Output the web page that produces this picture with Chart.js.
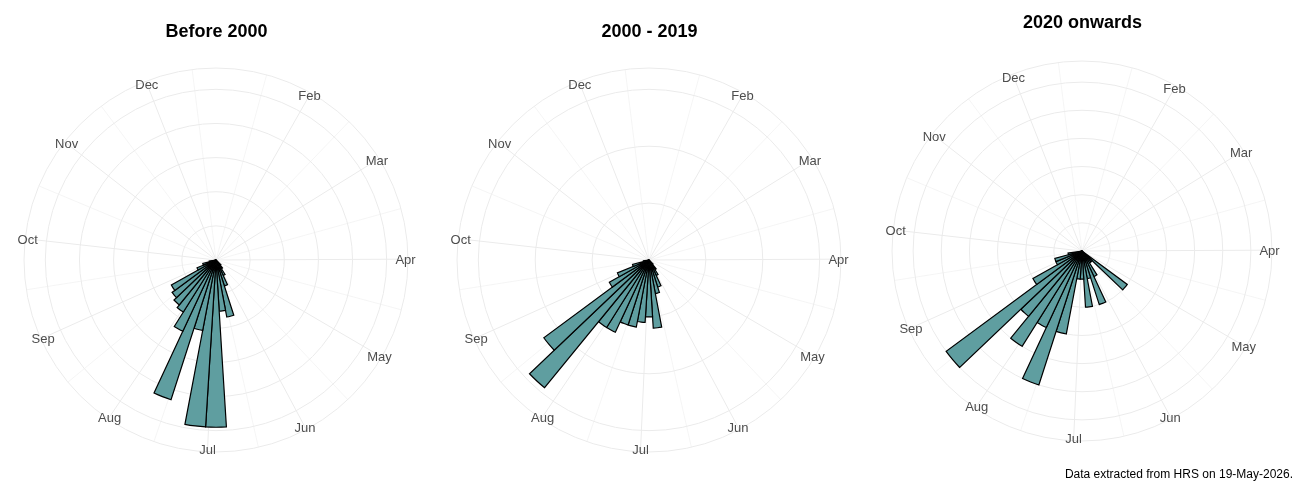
<!DOCTYPE html>
<html>
<head>
<meta charset="utf-8">
<script src="https://cdn.jsdelivr.net/npm/chart.js@4.4.1/dist/chart.umd.min.js"></script>
<style>
  html, body { margin: 0; padding: 0; background: #fff; }
  #wrap { position: relative; width: 1300px; height: 500px; }
  .panel { position: absolute; top: 0; width: 433px; height: 500px; }
</style>
</head>
<body>
<div id="wrap">
  <div class="panel" style="left:0"><canvas id="c1" width="433" height="500"></canvas></div>
  <div class="panel" style="left:433px"><canvas id="c2" width="433" height="500"></canvas></div>
  <div class="panel" style="left:866px"><canvas id="c3" width="433" height="500"></canvas></div>
</div>
<script>
// месяцы и день года, с которого начинается каждый
const months = ['Jan', 'Feb', 'Mar', 'Apr', 'May', 'Jun', 'Jul', 'Aug', 'Sep', 'Oct', 'Nov', 'Dec'];
const monthStartDay = [0, 31, 59, 90, 120, 151, 181, 212, 243, 273, 304, 334];

// ось по кругу: первый день сверху и сколько дней на полный круг
const axisFirstDay = 2;
const axisDays = 353;

// недельные корзины: неделя w = дни 7*w .. 7*w+7
const weeks = [18, 19, 20, 21, 22, 23, 24, 25, 26, 27, 28, 29, 30, 31, 32, 33, 34, 35, 36];

// значения по неделям
const before2000   = [0, 2, 3, 5, 8, 17, 15, 49, 49, 21, 43, 23, 18, 17, 16, 15, 6, 4, 2];
const from2000to19 = [0, 1, 2, 3, 5, 6, 12, 10, 11, 12, 12, 14, 14, 29, 23, 8, 6, 3, 1];
const since2020    = [4, 1, 1, 2, 4, 2, 4, 2, 2, 6, 10, 6, 8, 6, 12, 4, 2, 2, 1];

// круги сетки
const rings1 = [10, 20, 30, 40, 50];
const rings2 = [10, 20, 30];
const rings3 = [2, 4, 6, 8, 10, 12];

const FONT = '"Liberation Sans", Arial, sans-serif';
Chart.defaults.font.family = FONT;

// подписи по дням: имя месяца только в первый день месяца
const dayLabels = [];
for (let i = 0; i < axisDays; i++) {
  const m = monthStartDay.indexOf(axisFirstDay + i);
  dayLabels.push(m >= 0 ? months[m] : '');
}

// основные лучи - начала месяцев, второстепенные - посередине (как в ggplot)
const inRange = monthStartDay.filter(d => d >= axisFirstDay && d < axisFirstDay + axisDays);
const step0 = inRange[1] - inRange[0];
const ext = [inRange[0] - step0].concat(inRange, [inRange[inRange.length - 1] + step0]);
const majorIdx = inRange.map(d => d - axisFirstDay);
const minorIdx = [];
for (let i = 0; i < ext.length - 1; i++) {
  minorIdx.push(Math.round((ext[i] + ext[i + 1]) / 2) - axisFirstDay);
}

// подписи месяцев почти на внешнем круге шкалы
const monthLabels = {
  id: 'monthLabels',
  beforeDatasetsDraw(chart) {
    const scale = chart.scales.r;
    const ctx = chart.ctx;
    ctx.save();
    ctx.font = '13px ' + FONT;
    ctx.fillStyle = '#4d4d4d';
    ctx.textAlign = 'center';
    ctx.textBaseline = 'middle';
    chart.data.labels.forEach((lab, i) => {
      if (!lab) return;
      const p = scale.getPointPosition(i, scale.drawingArea - 2.5);
      ctx.fillText(lab, p.x, p.y + 1.5);
    });
    ctx.restore();
  }
};

function makePanel(id, title, values, rings, layout) {
  const top = rings[rings.length - 1];
  const rMax = top * 1.125;
  const degPerDay = 360 / axisDays;

  // первая дуга - пустой промежуток до первой недели
  const data = [0].concat(values);
  const angles = [(7 * weeks[0] - axisFirstDay) * degPerDay].concat(weeks.map(() => 7 * degPerDay));

  const plugins = {
    legend: { display: false },
    tooltip: { enabled: false },
    title: {
      display: true,
      text: title,
      color: '#000',
      font: { size: 18, weight: 'bold' },
      padding: layout.titlePad
    }
  };
  if (layout.caption) {
    plugins.subtitle = {
      display: true,
      position: 'bottom',
      align: 'end',
      text: layout.caption,
      color: '#000',
      font: { size: 12 },
      padding: layout.captionPad
    };
  }

  new Chart(document.getElementById(id), {
    type: 'polarArea',
    data: {
      labels: dayLabels,
      datasets: [{
        data: data,
        angle: c => angles[c.dataIndex],
        backgroundColor: c => c.dataIndex === 0 ? 'rgba(0,0,0,0)' : '#5f9ea0',
        borderColor: '#000',
        borderWidth: c => (c.dataIndex > 0 && c.raw > 0) ? 1.2 : 0,
        borderJoinStyle: 'miter'
      }]
    },
    options: {
      responsive: false,
      animation: false,
      layout: { padding: layout.padding },
      plugins: plugins,
      scales: {
        r: {
          min: 0,
          max: rMax,
          startAngle: 0,
          afterBuildTicks: scale => {
            scale.ticks = [0].concat(rings, [rMax]).map(v => ({ value: v }));
          },
          ticks: { display: false },
          grid: { display: true, circular: true, color: '#ebebeb', lineWidth: 1 },
          angleLines: {
            display: true,
            color: '#ebebeb',
            lineWidth: c => majorIdx.includes(c.index) ? 1 : (minorIdx.includes(c.index) ? 0.5 : 0)
          },
          pointLabels: { display: false }
        }
      }
    },
    plugins: [monthLabels]
  });
}

makePanel('c1', 'Before 2000', before2000, rings1, {
  titlePad: { top: 21.2, bottom: 25.2 },
  padding: { top: 0, bottom: 48, left: 0, right: 0 }
});
makePanel('c2', '2000 - 2019', from2000to19, rings2, {
  titlePad: { top: 21.2, bottom: 25.2 },
  padding: { top: 0, bottom: 48, left: 0, right: 0 }
});
makePanel('c3', '2020 onwards', since2020, rings3, {
  titlePad: { top: 12.2, bottom: 27.2 },
  caption: 'Data extracted from HRS on 19-May-2026.',
  captionPad: { top: 26.8, bottom: 17.8 },
  padding: { top: 0, bottom: 0, left: 6, right: 6 }
});
</script>
</body>
</html>
